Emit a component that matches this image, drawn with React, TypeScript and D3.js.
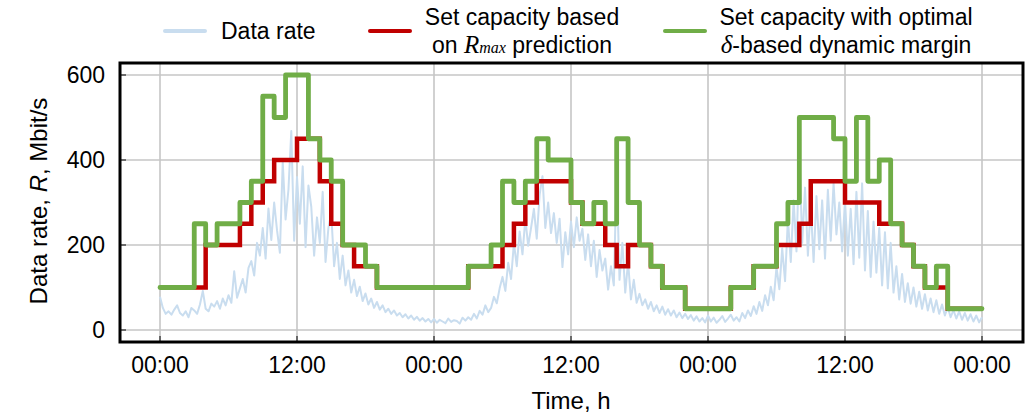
import React from "react";
import * as d3 from "d3";

// one sample every 15 min, hours 0..72
const dataRate = [
  78, 52, 38, 44, 36, 48, 58, 40, 34, 44, 30, 52, 46, 38, 60, 92,
  50, 44, 62, 55, 68, 50, 74, 58, 82, 64, 138, 76, 98, 120, 88, 146,
  162, 128, 205, 175, 240, 168, 286, 212, 300, 235, 182, 395, 260, 330, 468, 210,
  360, 250, 385, 195, 340, 290, 175, 265, 205, 325, 160, 240, 275, 150, 205, 120,
  175, 105, 140, 88, 118, 80, 102, 68, 86, 60, 74, 52, 66, 48, 58, 42,
  50, 38, 46, 34, 40, 30, 37, 27, 34, 24, 31, 22, 28, 20, 26, 18,
  26, 17, 24, 20, 16, 27, 19, 23, 21, 15, 29, 22, 30, 24, 38, 27,
  45, 36, 58, 42, 52, 78, 63, 98, 125, 92, 158, 120, 205, 150, 232, 178,
  262, 198, 240, 285, 215, 318, 362, 240, 300, 228, 275, 205, 262, 148, 230, 178,
  255, 195, 265, 210, 238, 165, 225, 150, 210, 125, 188, 140, 168, 95, 150, 105,
  372, 118, 205, 88, 160, 72, 118, 64, 85, 58, 72, 50, 66, 44, 58, 40,
  55, 36, 49, 34, 46, 30, 41, 28, 38, 26, 35, 22, 32, 20, 28, 18,
  34, 20, 29, 17, 24, 33, 19, 27, 36, 22, 30, 20, 40, 28, 46, 33,
  56, 38, 66, 45, 82, 58, 102, 70, 148, 96, 192, 115, 262, 160, 305, 185,
  425, 205, 335, 175, 292, 160, 315, 190, 305, 168, 330, 210, 345, 225, 300, 185,
  305, 175, 285, 155, 325, 170, 345, 140, 280, 125, 255, 135, 240, 105, 230, 98,
  205, 88, 150, 72, 132, 66, 110, 62, 100, 55, 90, 50, 84, 46, 74, 42,
  70, 38, 60, 34, 54, 30, 47, 27, 44, 24, 40, 22, 37, 20, 34, 18,
  30,
];

// [hour, Mbit/s] where each step starts
const rmaxCapacity: [number, number][] = [
  [0, 100], [4, 200], [7, 250], [8, 300], [9, 350], [10, 400], [12, 450],
  [14, 350], [15, 250], [16, 200], [17, 150], [19, 100], [27, 150], [30, 200],
  [31, 250], [32, 300], [33, 350], [36, 300], [37, 250], [39, 200], [40, 150],
  [41, 200], [43, 150], [44, 100], [46, 50], [50, 100], [52, 150], [54, 200],
  [56, 250], [57, 350], [60, 300], [63, 250], [65, 200], [66, 150], [67, 100],
  [69, 50], [72, 50],
];

const deltaCapacity: [number, number][] = [
  [0, 100], [3, 250], [4, 200], [5, 250], [7, 300], [8, 350], [9, 550],
  [10, 500], [11, 600], [13, 450], [14, 400], [15, 350], [16, 200], [18, 150],
  [19, 100], [27, 150], [29, 200], [30, 350], [31, 300], [32, 350], [33, 450],
  [34, 400], [36, 300], [37, 250], [38, 300], [39, 250], [40, 450], [41, 300],
  [42, 200], [43, 150], [44, 100], [46, 50], [50, 100], [52, 150], [54, 250],
  [55, 300], [56, 500], [59, 450], [60, 350], [61, 500], [62, 350], [63, 400],
  [64, 250], [65, 200], [66, 150], [67, 100], [68, 150], [69, 50], [72, 50],
];

const yTicks = [0, 200, 400, 600];
const xTicks = [0, 12, 24, 36, 48, 60, 72];
const xTickLabels = ["00:00", "12:00", "00:00", "12:00", "00:00", "12:00", "00:00"];

const font = "'Liberation Sans', Arial, sans-serif";
const serif = "'Liberation Serif', 'Times New Roman', serif";

export default function App() {
  const left = 120, right = 1023, top = 63, bottom = 342;
  const x = d3.scaleLinear().domain([0, 72]).range([160, 982]);
  const y = d3.scaleLinear().domain([0, 600]).range([330, 75]);

  const rateLine = d3
    .line<number>()
    .x((d, i) => x(i / 4))
    .y((d) => y(d));

  const step = d3
    .line<[number, number]>()
    .x((d) => x(d[0]))
    .y((d) => y(d[1]))
    .curve(d3.curveStepAfter);

  return (
    <>
      <style>{`body{margin:0}`}</style>
      <svg width={1030} height={416} style={{ display: "block" }} fontFamily={font}>
        {/* grid */}
        {yTicks.map((t) => (
          <line key={"gy" + t} x1={left} x2={right} y1={y(t)} y2={y(t)} stroke="#c6c6c6" strokeWidth={1.6} />
        ))}
        {xTicks.map((t) => (
          <line key={"gx" + t} x1={x(t)} x2={x(t)} y1={top} y2={bottom} stroke="#c6c6c6" strokeWidth={1.6} />
        ))}

        <path d={rateLine(dataRate) || ""} fill="none" stroke="#c9ddef" strokeWidth={2} strokeLinejoin="round" />
        <path d={step(rmaxCapacity) || ""} fill="none" stroke="#c00000" strokeWidth={4.5} />
        <path d={step(deltaCapacity) || ""} fill="none" stroke="#70ad47" strokeWidth={4.8} strokeLinejoin="round" strokeLinecap="round" />

        {/* ticks */}
        {yTicks.map((t) => (
          <g key={"ty" + t}>
            <line x1={left} x2={left + 6} y1={y(t)} y2={y(t)} stroke="#000" strokeWidth={1} />
            <text x={105} y={y(t)} dy="0.36em" textAnchor="end" fontSize={23}>{t}</text>
          </g>
        ))}
        {xTicks.map((t, i) => (
          <g key={"tx" + t}>
            <line x1={x(t)} x2={x(t)} y1={bottom} y2={bottom - 6} stroke="#000" strokeWidth={1} />
            <text x={x(t)} y={373} textAnchor="middle" fontSize={23}>{xTickLabels[i]}</text>
          </g>
        ))}

        <rect x={left} y={top} width={right - left} height={bottom - top} fill="none" stroke="#000" strokeWidth={3} />

        <text x={571} y={409} textAnchor="middle" fontSize={24}>Time, h</text>
        <text transform="translate(47,201) rotate(-90)" textAnchor="middle" fontSize={24}>
          Data rate, <tspan fontStyle="italic">R</tspan>, Mbit/s
        </text>

        {/* legend */}
        <line x1={165} x2={205} y1={31} y2={31} stroke="#c9ddef" strokeWidth={4} strokeLinecap="round" />
        <text x={221} y={39} fontSize={23}>Data rate</text>

        <line x1={370} x2={410} y1={31} y2={31} stroke="#c00000" strokeWidth={4} strokeLinecap="round" />
        <text x={522} y={25} textAnchor="middle" fontSize={23}>Set capacity based</text>
        <text x={522} y={53} textAnchor="middle" fontSize={23}>
          on <tspan fontFamily={serif} fontStyle="italic" fontSize={25}>R</tspan>
          <tspan fontFamily={serif} fontStyle="italic" fontSize={16}>max</tspan> prediction
        </text>

        <line x1={665} x2={705} y1={31} y2={31} stroke="#70ad47" strokeWidth={4} strokeLinecap="round" />
        <text x={846} y={25} textAnchor="middle" fontSize={23}>Set capacity with optimal</text>
        <text x={846} y={53} textAnchor="middle" fontSize={23}>
          <tspan fontFamily={serif} fontStyle="italic" fontSize={25}>δ</tspan>-based dynamic margin
        </text>
      </svg>
    </>
  );
}
